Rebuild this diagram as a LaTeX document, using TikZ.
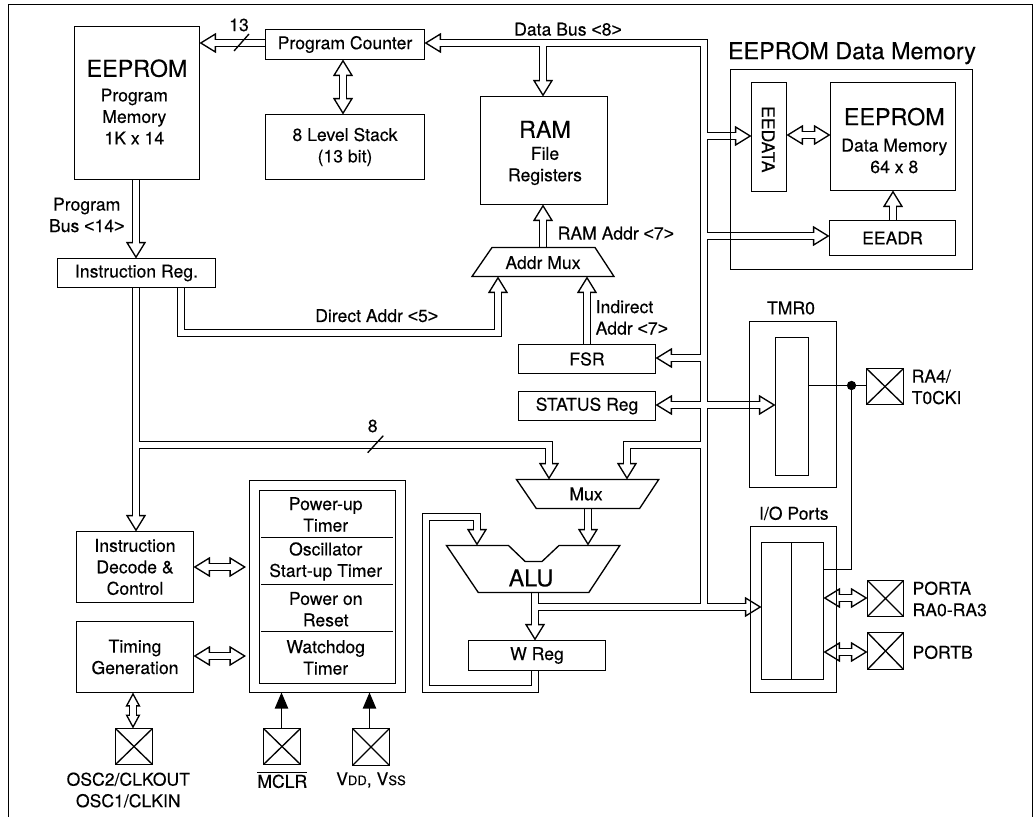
\documentclass[tikz,border=0pt]{standalone}
\usepackage{fontspec}
\setmainfont[FakeBold=0.25]{TeX Gyre Heros}
\newfontfamily\ltfont[FakeBold=0.25]{Liberation Sans}
\newcommand{\lt}{{\ltfont<}}
\newcommand{\gt}{{\ltfont>}}
\usetikzlibrary{arrows.meta,calc}
\pgfdeclarelayer{bg}
\pgfsetlayers{bg,main}
\newcommand{\normtxt}{\fontsize{13.2}{16.1}\selectfont\addfontfeature{FakeBold=0.25}}
\newcommand{\bigtxt}{\fontsize{17.5}{20}\selectfont\addfontfeature{FakeBold=0.25}}
\newcommand{\smalltxt}{\fontsize{9.8}{12}\selectfont\addfontfeature{FakeBold=0.25}}
% box from corners, edges snapped to pixel centres
\newcommand{\snapcorners}[4]{%
  \pgfmathsetmacro{\xa}{floor(#1)+0.5}\pgfmathsetmacro{\ya}{floor(#2)+0.5}%
  \pgfmathsetmacro{\xb}{floor(#3)+0.5}\pgfmathsetmacro{\yb}{floor(#4)+0.5}%
  \pgfmathsetmacro{\bw}{(\xb-\xa)*0.75}\pgfmathsetmacro{\bh}{(\yb-\ya)*0.75}%
  \pgfmathsetmacro{\cx}{(\xa+\xb)/2}\pgfmathsetmacro{\cy}{(\ya+\yb)/2}}
\newcommand{\bx}[6]{\snapcorners{#2}{#3}{#4}{#5}%
  \node[boxn,minimum width=\bw pt,minimum height=\bh pt] (#1) at (\cx,\cy) {#6};}
\newcommand{\pd}[5]{\snapcorners{#2}{#3}{#4}{#5}%
  \node[pad,minimum width=\bw pt,minimum height=\bh pt] (#1) at (\cx,\cy) {};}
\tikzset{
  x=0.75pt,y=-0.75pt,
  thinl/.style={line width=1pt,line join=miter},
  wire/.style={line width=0.8pt},
  boxn/.style={draw,thinl,inner sep=0pt,outer sep=0pt,align=center,font=\normtxt},
  lab/.style={inner sep=0pt,outer sep=0pt,align=center,font=\normtxt},
  labl/.style={lab,anchor=west,align=left},
  biglab/.style={lab,font=\bigtxt},
  pad/.style={boxn,path picture={\draw[thinl] (path picture bounding box.north west)--(path picture bounding box.south east)
     (path picture bounding box.north east)--(path picture bounding box.south west);}},
  busout/.style={line width=6.25pt,black,line cap=butt,line join=miter},
  busin/.style={line width=4.25pt,white,line cap=butt,line join=miter},
  bustipl/.style={line width=0.1pt,white},
  oe/.style={shorten >=12pt}, os/.style={shorten <=12pt}, ob/.style={oe,os}, oB/.style={shorten >=10pt,shorten <=10pt},
  ie/.style={shorten >=9.5pt}, is/.style={shorten <=9.5pt}, ib/.style={ie,is}, iB/.style={shorten >=8pt,shorten <=8pt},
  te/.style={-{Triangle[open,black,fill=white,length=12.4pt,width=15pt,line width=1pt]}},
  ts/.style={{Triangle[open,black,fill=white,length=12.4pt,width=15pt,line width=1pt]}-},
  tb/.style={{Triangle[open,black,fill=white,length=12.4pt,width=15pt,line width=1pt]}-{Triangle[open,black,fill=white,length=12.4pt,width=15pt,line width=1pt]}},
  tB/.style={{Triangle[open,black,fill=white,length=10.5pt,width=11pt,line width=1pt]}-{Triangle[open,black,fill=white,length=10.5pt,width=11pt,line width=1pt]}},
  solidarr/.style={wire,-{Triangle[black,length=12pt,width=10pt]}},
}
\begin{document}
\begin{tikzpicture}
\useasboundingbox (0,0) rectangle (1033,817);
% outer frame
\coordinate (fA) at (8.5,817); \coordinate (fB) at (8.5,4.5); \coordinate (fC) at (1032.5,4.5); \coordinate (fD) at (1032.5,817);
\draw[thinl] (fA) -- (fB) -- (fC) -- (fD);
% boxes
\bx{prog}{74}{26}{199.5}{179.5}{}
\bx{pc}{265}{29.5}{424.5}{59}{Program Counter}
\bx{stack}{265}{114.5}{424.5}{179}{8 Level Stack\\(13 bit)}
\bx{ram}{480.5}{96.5}{607.7}{204.5}{}
\bx{ireg}{57}{258}{215.5}{287.5}{Instruction Reg.}
\bx{fsr}{518.3}{344}{655.7}{373.3}{FSR}
\bx{status}{518.3}{391.7}{655.7}{420.7}{STATUS Reg}
\bx{eedm}{730}{69}{972.3}{269.3}{}
\bx{eedata}{751.7}{82.3}{786}{191.7}{}
\bx{dm}{830}{82.3}{955.7}{190.7}{}
\bx{eeadr}{829.7}{220.7}{955.7}{255.7}{EEADR}
\bx{tmr}{749}{321}{836}{487.7}{}
\bx{tmrin}{775.7}{337.3}{808.3}{475}{}
\bx{io}{750}{526}{836.7}{692}{}
\bx{ioin}{761.2}{542.3}{823.6}{679}{}
\bx{idc}{76.7}{531.7}{193.3}{602.3}{Instruction\\Decode \&\\Control}
\bx{tim}{76.7}{621.7}{193.3}{692.3}{Timing\\Generation}
\bx{power}{249.3}{480.7}{405.3}{692.7}{}
\bx{powin}{259.3}{490.3}{395.3}{683}{}
\bx{wreg}{468}{640.7}{605.5}{670}{W Reg}
% pads
\pd{ra4}{866.7}{368.3}{903.3}{404}
\pd{porta}{867.3}{580}{903.8}{616.7}
\pd{portb}{867.3}{632.7}{903.8}{669.3}
\pd{osc}{115}{728}{152}{764.7}
\pd{mclr}{263.3}{728}{300}{764.7}
\pd{vdd}{352}{728.3}{389.3}{765}
% trapezoids
\draw[thinl] (472,276.5) -- (492,247.5) -- (595,247.5) -- (614,276.5) -- cycle;
\draw[thinl] (516.5,479.5) -- (658.7,479.5) -- (639.6,508.5) -- (536.3,508.5) -- cycle;
\draw[thinl] (446.5,545.5) -- (508.5,545.5) -- (525.2,561.5) -- (542,561.5) -- (559,545.5) -- (619.8,545.5) -- (588.8,592.5) -- (478.3,592.5) -- cycle;
% power dividers
\coordinate (d1a) at (261,537.5); \coordinate (d1b) at (392.5,537.5);
\coordinate (d2a) at (261,584.5); \coordinate (d2b) at (392.5,584.5);
\coordinate (d3a) at (261,631.5); \coordinate (d3b) at (392.5,631.5);
\draw[thinl] (d1a)--(d1b) (d2a)--(d2b) (d3a)--(d3b);
\draw[thinl] (791.5,0 |- ioin.north) -- (791.5,0 |- ioin.south);
% labels
\node[biglab] (tEE1) at (137,68.3) {EEPROM};
\node[lab] (tEE2) at (134.3,116.5) {Program\\Memory\\1K x 14};
\node[biglab] (tRAM) at (545,129.3) {RAM};
\node[lab] (tRAM2) at (545,166) {File\\Registers};
\node[biglab] (tEDM) at (852,53) {EEPROM Data Memory};
\node[biglab] (tEE3) at (894.3,116.7) {EEPROM};
\node[lab] (tEE4) at (894.3,156) {Data Memory\\64 x 8};
\node[lab,rotate=-90] (tEEDATA) at (768.3,139.3) {EEDATA};
\node[lab] (tDB) at (568,29.3) {Data Bus \lt 8\gt};
\node[lab] (tPB) at (86.7,215) {Program\\Bus \lt 14\gt};
\node[lab] (tDA) at (376.7,315.7) {Direct Addr \lt 5\gt};
\node[labl] (tRA) at (557.7,233.3) {RAM Addr \lt 7\gt};
\node[lab] (tAM) at (543,262.7) {Addr Mux};
\node[labl] (tIA) at (595.7,317.5) {Indirect\\Addr \lt 7\gt};
\node[lab] (tTMR) at (791,308) {TMR0};
\node[labl] (tRA4) at (911.7,387) {RA4/\\T0CKI};
\node[lab] (tMux) at (586,494) {Mux};
\node[biglab] (tALU) at (531,578) {ALU};
\node[lab] (tIO) at (793.8,513.3) {I/O Ports};
\node[labl] (tPA) at (912.6,599) {PORTA\\RA0-RA3};
\node[labl] (tPB2) at (912.6,652.3) {PORTB};
\node[lab] (t13) at (239,25) {13};
\node[lab] (t8) at (372.7,426) {8};
\node[lab] (tP1) at (325.7,514.5) {Power-up\\Timer};
\node[lab] (tP2) at (325.7,561.5) {Oscillator\\Start-up Timer};
\node[lab] (tP3) at (325.7,609.3) {Power on\\Reset};
\node[lab] (tP4) at (325.7,657.5) {Watchdog\\Timer};
\node[lab] (tOSC) at (128.3,790) {OSC2/CLKOUT\\OSC1/CLKIN};
\node[lab] (tMCLR) at (282.3,780) {$\overline{\hbox{\normtxt MCLR}}$};
\node[lab] (tVDD) at (371,780) {V{\smalltxt DD}, V{\smalltxt SS}};
% slashes
\coordinate (s1a) at (234,51); \coordinate (s1b) at (249,34);
\coordinate (s2a) at (367.7,452.7); \coordinate (s2b) at (383.3,435.7);
\draw[thinl] (s1a) -- (s1b) (s2a) -- (s2b);
% thin wires
\node[circle,fill=black,inner sep=0pt,minimum size=7pt] (dot) at (851.5,385.5) {};
\draw[wire] (tmrin.east |- dot) -- (dot) -- (ra4.west |- dot);
\draw[wire] (dot) -- (851.5,569.5) -- (ioin.east |- 0,569.5);
\draw[solidarr] (281.5,0 |- mclr.north) -- (281.5,0 |- power.south);
\draw[solidarr] (369.5,0 |- vdd.north) -- (369.5,0 |- power.south);
% buses
\coordinate (dbT) at (704,43);
\coordinate (dbB) at (704,607);
\newcommand{\allbuses}{%
 \B{s}{(pc.east |- dbT) -- (dbT) -- (dbB)}%
 \B{e}{(543,43) -- (543,0 |- ram.north)}%
 \B{e}{(dbT |- 0,136) -- (eedata.west |- 0,136)}%
 \B{e}{(dbT |- 0,236) -- (eeadr.west |- 0,236)}%
 \B{e}{(dbT |- 0,358) -- (fsr.east |- 0,358)}%
 \B{b}{(status.east |- 0,405) -- (tmrin.west |- 0,405)}%
 \B{e}{(dbT |- 0,445) -- (627,445) -- (627,479.5)}%
 \B{e}{(136,0 |- ireg.south) -- (136,0 |- idc.north)}%
 \B{e}{(136,445) -- (549,445) -- (549,479.5)}%
 \B{e}{(181,0 |- ireg.south) -- (181,333) -- (498,333) -- (498,276.5)}%
 \B{e}{(136,0 |- prog.south) -- (136,0 |- ireg.north)}%
 \B{e}{(543,247.5) -- (543,0 |- ram.south)}%
 \B{e}{(587,0 |- fsr.north) -- (587,276.5)}%
 \B{b}{(343,0 |- pc.south) -- (343,0 |- stack.north)}%
 \B{e}{(pc.west |- 0,43) -- (prog.east |- 0,43)}%
 \B{e}{(893,0 |- eeadr.north) -- (893,0 |- dm.south)}%
 \B{b}{(eedata.east |- 0,135) -- (dm.west |- 0,135)}%
 \B{e}{(588,508.5) -- (588,545.5)}%
 \B{e}{(535,592.5) -- (535,0 |- wreg.north)}%
 \B{e}{(535,607) -- (ioin.west |- 0,607)}%
 \B{e}{(535,0 |- wreg.south) -- (535,689) -- (426,689) -- (426,517) -- (477,517) -- (477,545.5)}%
 \B{b}{(idc.east |- 0,567) -- (246,567)}%
 \B{b}{(tim.east |- 0,656) -- (246,656)}%
 \B{b}{(ioin.east |- 0,598) -- (porta.west |- 0,598)}%
 \B{b}{(ioin.east |- 0,652) -- (portb.west |- 0,652)}%
 \B{B}{(133,0 |- tim.south) -- (133,0 |- osc.north)}%
}
\begin{pgfonlayer}{bg}
 \newcommand{\B}[2]{\draw[busout,o#1] #2;}
 \allbuses
 \renewcommand{\B}[2]{\draw[bustipl,t#1] #2;}
 \allbuses
 \renewcommand{\B}[2]{\draw[busin,i#1] #2;}
 \allbuses
\end{pgfonlayer}
\end{tikzpicture}
\end{document}
